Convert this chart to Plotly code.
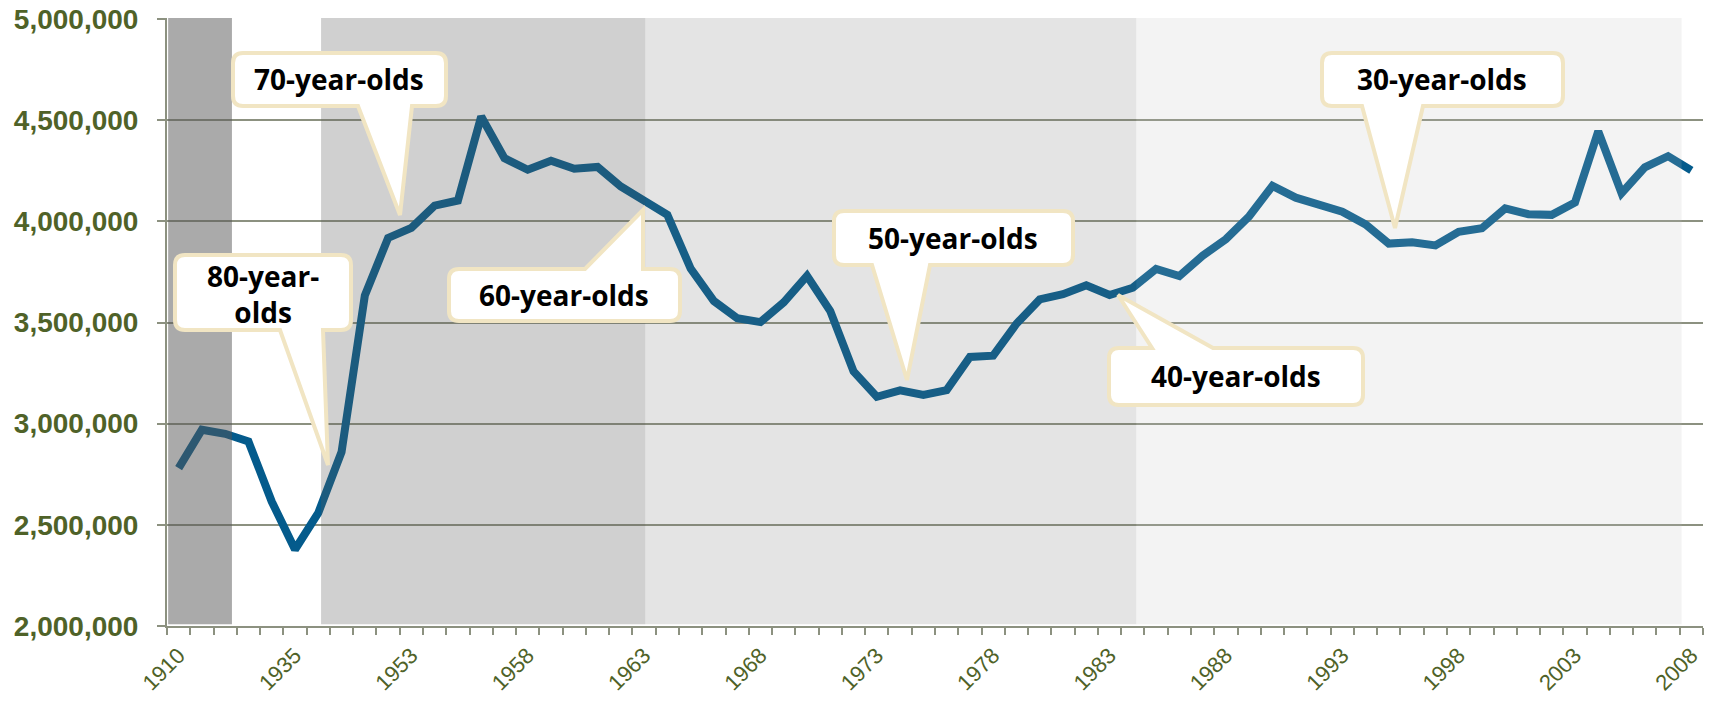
import plotly.graph_objects as go

# ---------------- data ----------------
years = ["1910", "1915", "1920", "1925", "1930", "1935", "1940", "1945", "1950", "1952",
         "1953", "1954", "1955", "1956", "1957", "1958", "1959", "1960", "1961", "1962",
         "1963", "1964", "1965", "1966", "1967", "1968", "1969", "1970", "1971", "1972",
         "1973", "1974", "1975", "1976", "1977", "1978", "1979", "1980", "1981", "1982",
         "1983", "1984", "1985", "1986", "1987", "1988", "1989", "1990", "1991", "1992",
         "1993", "1994", "1995", "1996", "1997", "1998", "1999", "2000", "2001", "2002",
         "2003", "2004", "2005", "2006", "2007", "2008"]

births = [2780000, 2970000, 2950000, 2912000, 2615000, 2378000, 2559000, 2860000, 3633000, 3918000,
          3968000, 4078000, 4103000, 4518000, 4312000, 4255000, 4299000, 4260000, 4269000, 4172000,
          4102000, 4032000, 3767000, 3606000, 3521000, 3502000, 3600000, 3731000, 3556000, 3258000,
          3133000, 3165000, 3142000, 3166000, 3330000, 3336000, 3494000, 3614000, 3640000, 3684000,
          3636000, 3672000, 3765000, 3730000, 3830000, 3912000, 4025000, 4175000, 4117000, 4087000,
          4048000, 3985000, 3890000, 3896000, 3881000, 3948000, 3966000, 4064000, 4035000, 4032000,
          4093000, 4445000, 4139000, 4267000, 4322000, 4252000]

labeled_years = ["1910", "1935", "1953", "1958", "1963", "1968", "1973", "1978",
                 "1983", "1988", "1993", "1998", "2003", "2008"]

y_ticks = [2000000, 2500000, 3000000, 3500000, 4000000, 4500000, 5000000]

callout_texts = ["80-year-<br>olds", "70-year-olds", "60-year-olds",
                 "50-year-olds", "40-year-olds", "30-year-olds"]

# ---------------- layout constants ----------------
W, H = 1710, 703
# plot area in page pixels
PX0, PX1, PY0, PY1 = 167, 1703, 18, 626
ML, MT, MR, MB = PX0, PY0, W - PX1, H - PY1
YMIN, YMAX = 2000000, 5000000 + 3000000 * 1 / (PY1 - PY0)   # 1px headroom for top gridline

OLIVE = "#4f6228"
GRID = "#8c9180"
LINE = "#045b8c"
CREAM = "#f1e5c3"


def px2paper(px, py):
    return (px - PX0) / (PX1 - PX0), (PY1 - py) / (PY1 - PY0)


def callout_path(x0, y0, x1, y1, side, base_l, base_r, tip, r=10, inset=2):
    x0 += inset; y0 += inset; x1 -= inset; y1 -= inset
    pts = []

    def P(cmd, *xy):
        coords = []
        for i in range(0, len(xy), 2):
            a, b = px2paper(xy[i], xy[i + 1])
            coords.append(f"{a:.5f},{b:.5f}")
        pts.append(cmd + " " + " ".join(coords))
    P("M", x0 + r, y0)
    if side == "top":
        P("L", base_l, y0); P("L", *tip); P("L", base_r, y0)
    P("L", x1 - r, y0)
    P("Q", x1, y0, x1, y0 + r)
    P("L", x1, y1 - r)
    P("Q", x1, y1, x1 - r, y1)
    if side == "bottom":
        P("L", base_r, y1); P("L", *tip); P("L", base_l, y1)
    P("L", x0 + r, y1)
    P("Q", x0, y1, x0, y1 - r)
    P("L", x0, y0 + r)
    P("Q", x0, y0, x0 + r, y0)
    return " ".join(pts) + " Z"


# callout geometry in page pixels: box, wedge side, wedge base, tip, text centre
callouts = [
    ((173, 253, 353, 332), "bottom", 280, 323, (328, 465), (263, 294)),
    ((231, 51, 448, 108), "bottom", 358, 412, (400, 215), (339, 79)),
    ((447, 267, 682, 323), "top", 585, 643, (643, 210), (564, 295)),
    ((832, 209, 1075, 267), "bottom", 872, 930, (907, 380), (953, 238)),
    ((1107, 346, 1365, 407), "top", 1152, 1213, (1118, 295), (1236, 376)),
    ((1320, 51, 1565, 108), "bottom", 1362, 1423, (1395, 228), (1442, 79)),
]

xs = list(range(len(years)))

fig = go.Figure()
fig.add_trace(go.Scatter(
    x=xs, y=births, mode="lines",
    line=dict(color=LINE, width=8),
    text=years, hovertemplate="%{text}: %{y:,d}<extra></extra>",
    showlegend=False,
))

shapes = []
# background age bands (semi-transparent overlays drawn over the line)
bands = [(-0.45, 2.29, "rgba(85,85,85,0.5)"),
         (6.12, 20.05, "rgba(91,91,91,0.286)"),
         (20.05, 41.15, "rgba(109,109,109,0.184)"),
         (41.15, 64.58, "rgba(189,189,189,0.18)")]
for a, b, c in bands:
    shapes.append(dict(type="rect", xref="x", yref="paper", x0=a, x1=b, y0=0.003, y1=1,
                       fillcolor=c, line=dict(width=0), layer="above"))

# x axis line stub extending left of the y axis
shapes.append(dict(type="line", xref="paper", yref="paper",
                   x0=(PX0 - 9 - PX0) / (PX1 - PX0), x1=0, y0=0, y1=0,
                   line=dict(color=GRID, width=2), layer="below"))

annotations = []
for (box, side, bl, br, tip, tc), txt in zip(callouts, callout_texts):
    shapes.append(dict(type="path", xref="paper", yref="paper",
                       path=callout_path(*box, side, bl, br, tip),
                       fillcolor="white", line=dict(color=CREAM, width=4), layer="above"))
    ax, ay = px2paper(*tc)
    annotations.append(dict(xref="paper", yref="paper", x=ax, y=ay, text=txt,
                            showarrow=False, xanchor="center", yanchor="middle",
                            font=dict(family="Open Sans", size=28, color="black", weight="bold")))

fig.update_layout(
    width=W, height=H,
    margin=dict(l=ML, r=MR, t=MT, b=MB, pad=0, autoexpand=False),
    paper_bgcolor="white", plot_bgcolor="white",
    shapes=shapes, annotations=annotations,
    xaxis=dict(
        type="linear", range=[-0.5, len(years) - 0.5], automargin=False,
        tickmode="array", tickvals=[years.index(y) for y in labeled_years],
        ticktext=labeled_years, ticks="", tickangle=-45,
        tickfont=dict(family="Liberation Sans", size=22, color=OLIVE),
        ticklabelstandoff=6,
        showgrid=False, zeroline=False,
        showline=True, linecolor=GRID, linewidth=2,
        minor=dict(ticks="outside", tickmode="linear", tick0=-0.5, dtick=1,
                   ticklen=7, tickwidth=2, tickcolor=GRID, showgrid=False),
    ),
    yaxis=dict(
        range=[YMIN, YMAX], tickmode="array", tickvals=y_ticks, automargin=False,
        tickformat=",d", showgrid=True, gridcolor=GRID, gridwidth=2,
        ticks="outside", ticklen=8, tickwidth=2, tickcolor=GRID,
        showline=True, linecolor=GRID, linewidth=2, zeroline=False,
        tickfont=dict(family="Liberation Sans", size=28, color=OLIVE, weight="bold"),
        ticklabelstandoff=13, ticklabeloverflow="allow",
    ),
)

# remove the browser's default 8px body margin so the figure fills the window exactly
fig.write_html("out.html", config={"displayModeBar": False},
               post_script="document.body.style.margin='0px';")
